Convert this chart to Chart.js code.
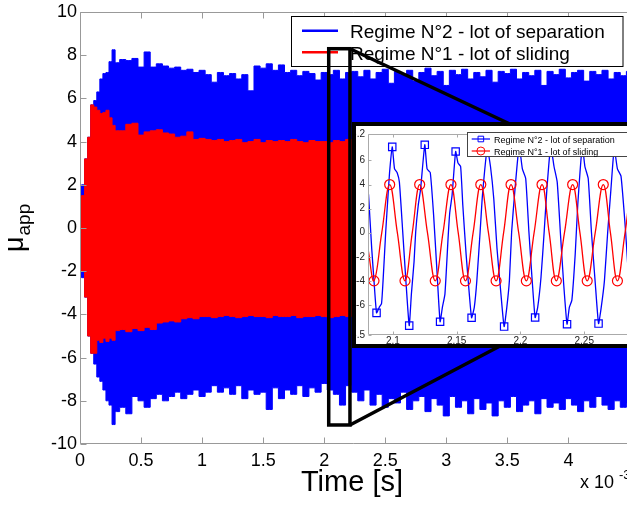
<!DOCTYPE html>
<html>
<head>
<meta charset="utf-8">
<script src="https://cdn.jsdelivr.net/npm/chart.js@4.4.1/dist/chart.umd.min.js"></script>
<style>
  html, body { margin: 0; padding: 0; background: #fff; overflow: hidden; }
  #wrap { position: relative; width: 627px; height: 505px; overflow: hidden; }
  #main { position: absolute; left: 0; top: 0; }
  #insetBox { position: absolute; left: 352px; top: 122px; width: 300px; height: 218px;
              border: 4px solid #000; background: #fff; }
  #inset { display: block; }
</style>
</head>
<body>
<div id="wrap">
  <canvas id="main" width="627" height="505"></canvas>
  <div id="insetBox"><canvas id="inset" width="300" height="218"></canvas></div>
</div>
<script>
const FONT = "'Liberation Sans', Arial, sans-serif";
const BLUE = "#0000ff";
const RED = "#ff0000";
const sepLabel = "Regime N°2 - lot of separation";
const slideLabel = "Regime N°1 - lot of sliding";

// envelope of mu_app over the whole run, time in units of 1e-3 s
const time = [
  0, 0.025, 0.05, 0.075, 0.1, 0.125, 0.15, 0.175, 0.2, 0.225, 0.25, 0.275, 0.3,
  0.35, 0.4, 0.45, 0.5, 0.55, 0.6, 0.65, 0.7, 0.75, 0.8, 0.85, 0.9, 0.95, 1.0,
  1.05, 1.1, 1.15, 1.2, 1.25, 1.3, 1.35, 1.4, 1.45, 1.5, 1.55, 1.6,
  1.65, 1.7, 1.75, 1.8, 1.85, 1.9, 1.95, 2.0, 2.05, 2.1, 2.15, 2.2,
  2.25, 2.3, 2.35, 2.4, 2.45, 2.5, 2.55, 2.6, 2.65, 2.7,
  2.75, 2.8, 2.85, 2.9, 2.95, 3.0, 3.05, 3.1, 3.15, 3.2,
  3.25, 3.3, 3.35, 3.4, 3.45, 3.5, 3.55, 3.6, 3.65, 3.7,
  3.75, 3.8, 3.85, 3.9, 3.95, 4.0, 4.05, 4.1, 4.15, 4.2,
  4.25, 4.3, 4.35, 4.4, 4.45, 4.5
];
// Regime N°2 (separation) upper / lower envelope
const sepTop = [
  0.3, 2.0, 3.2, 4.2, 5.7, 5.9, 6.3, 6.9, 7.15, 7.2, 7.7, 8.25, 7.65,
  7.8, 7.75, 7.85, 7.45, 8.15, 7.45, 7.6, 7.5, 7.4, 7.45, 7.3, 7.35, 7.2, 7.3,
  7.1, 6.75, 7.2, 7.05, 7.15, 6.9, 7.1, 6.35, 7.5, 7.4, 7.6, 7.3,
  7.55, 7.2, 7.3, 7.05, 7.25, 7.15, 6.85, 7.2, 7.1, 7.3, 6.9, 7.2,
  7.25, 7.0, 7.3, 6.9, 7.2, 7.35, 6.7, 7.25, 7.1, 7.3,
  6.8, 7.2, 7.4, 7.05, 7.25, 6.6, 7.3, 7.1, 7.35, 6.9,
  7.2, 7.0, 7.3, 6.75, 7.25, 7.15, 7.35, 6.9, 7.2, 7.05,
  7.3, 6.6, 7.25, 7.1, 7.35, 6.95, 7.2, 7.3, 6.8, 7.25,
  7.1, 7.3, 6.9, 7.2, 7.05, 7.25
];
const sepBot = [
  -0.3, -2.3, -3.2, -5.0, -5.8, -6.3, -6.9, -7.1, -7.5, -8.0, -8.2, -9.1, -8.5,
  -8.3, -8.6, -7.8, -8.0, -8.3, -7.9, -7.7, -8.0, -7.8, -7.6, -7.9, -7.7, -7.5, -7.8,
  -7.6, -7.3, -7.6, -7.4, -7.7, -7.3, -7.9, -7.5, -7.7, -7.6, -8.4, -7.4,
  -7.9, -7.5, -7.7, -7.3, -7.8, -7.4, -7.6, -7.2, -7.5, -7.7, -8.2, -7.3,
  -7.6, -8.0, -7.5, -8.2, -7.7, -8.3, -7.9, -8.1, -7.6, -8.4,
  -8.0, -7.8, -8.5, -7.9, -8.2, -8.7, -7.8, -8.3, -8.0, -8.6,
  -7.9, -8.4, -8.1, -8.7, -8.0, -8.3, -7.8, -8.5, -8.2, -8.0,
  -8.6, -7.9, -8.3, -8.1, -8.4, -7.9, -8.2, -8.5, -8.0, -8.3,
  -7.8, -8.2, -8.4, -8.0, -8.3, -8.1
];
// Regime N°1 (sliding) upper / lower envelope
const slideTop = [
  0.3, 1.5, 3.2, 4.2, 5.7, 5.6, 5.45, 5.3, 5.35, 5.45, 5.1, 4.75, 4.5,
  4.5, 4.8, 4.85, 4.3, 4.45, 4.5, 4.55, 4.4, 4.35, 4.2, 4.25, 4.45, 4.1, 4.15,
  4.1, 4.05, 4.1, 4.0, 4.05, 4.1, 3.95, 4.0, 4.1, 3.95, 4.05, 4.0,
  4.05, 4.0, 4.1, 4.0, 3.95, 4.05, 4.0, 4.0, 3.95, 4.05, 4.0, 4.1,
  4.0, 4.05, 3.95, 4.0, 4.1, 4.0, 3.95, 4.05, 4.0, 4.0,
  4.1, 3.95, 4.0, 4.05, 4.0, 3.95, 4.05, 4.0, 4.1, 4.0,
  3.95, 4.0, 4.05, 4.0, 3.95, 4.05, 4.0, 4.1, 4.0, 3.95,
  4.05, 4.0, 4.0, 4.05, 3.95, 4.0, 4.1, 4.0, 3.95, 4.05,
  4.0, 4.0, 4.05, 3.95, 4.0, 4.05
];
const slideBot = [
  -0.2, -2.0, -3.2, -5.0, -5.8, -5.8, -5.2, -5.3, -5.1, -5.25, -5.1, -5.2, -4.75,
  -4.7, -4.8, -4.65, -4.75, -4.6, -4.7, -4.4, -4.35, -4.3, -4.35, -4.2, -4.15, -4.2, -4.1,
  -4.1, -4.15, -4.1, -4.05, -4.1, -4.15, -4.1, -4.05, -4.1, -4.1, -4.15, -4.05,
  -4.1, -4.1, -4.05, -4.15, -4.1, -4.1, -4.05, -4.1, -4.15, -4.1, -4.05, -4.1,
  -4.1, -4.05, -4.15, -4.1, -4.1, -4.05, -4.15, -4.1, -4.1, -4.05,
  -4.1, -4.15, -4.1, -4.05, -4.1, -4.1, -4.15, -4.05, -4.1, -4.1,
  -4.05, -4.15, -4.1, -4.1, -4.05, -4.1, -4.15, -4.1, -4.05, -4.1,
  -4.1, -4.15, -4.05, -4.1, -4.1, -4.05, -4.15, -4.1, -4.1, -4.05,
  -4.1, -4.15, -4.1, -4.05, -4.1, -4.1
];

// zoomed window shown in the inset
const insetSepTime = [
  2.0809, 2.0834, 2.0852, 2.0872, 2.0893, 2.0911, 2.0923, 2.0944, 2.0962, 2.0974,
  2.0995, 2.1013, 2.1033, 2.1051, 2.1077, 2.1102, 2.1128, 2.1145, 2.1166, 2.1179,
  2.1199, 2.1217, 2.1250, 2.1268, 2.1293, 2.1319, 2.1344, 2.1370, 2.1388, 2.1408,
  2.1434, 2.1446, 2.1464, 2.1492, 2.1510, 2.1531, 2.1548, 2.1574, 2.1599, 2.1617,
  2.1638, 2.1658, 2.1684, 2.1702, 2.1740, 2.1765, 2.1791, 2.1816, 2.1847, 2.1872,
  2.1893, 2.1913, 2.1931, 2.1957, 2.1990, 2.2015, 2.2041, 2.2066, 2.2092, 2.2115,
  2.2135, 2.2161, 2.2186, 2.2207, 2.2237, 2.2263, 2.2288, 2.2314, 2.2339, 2.2365,
  2.2383, 2.2403, 2.2429, 2.2449, 2.2485, 2.2505, 2.2531, 2.2556, 2.2587, 2.2612,
  2.2633, 2.2658, 2.2684, 2.2709, 2.2735, 2.2760, 2.2788, 2.2824, 2.2849, 2.2875,
  2.2901, 2.2939, 2.2977
];
const insetSepMu = [
  3.2, -1.3, -4.0, -6.66, -6.2, -5.9, -4.0, 0.1, 3.1, 5.0,
  7.13, 5.3, 5.0, 4.2, 0.1, -4.0, -7.72, -5.1, -2.4, 0.1,
  2.3, 3.6, 7.3, 5.3, 5.0, 1.5, -2.9, -7.4, -6.2, -5.1,
  -0.2, 1.7, 3.1, 6.75, 5.8, 5.5, 2.3, -1.8, -5.1, -7.07,
  -6.2, -4.0, 0.1, 3.1, 7.0, 5.5, 2.8, -1.3, -5.1, -7.8,
  -6.2, -4.0, 0.1, 3.6, 7.2, 5.3, 4.5, 0.1, -4.0, -7.05,
  -6.2, -3.7, 0.1, 3.6, 7.2, 5.5, 4.2, -0.2, -4.3, -7.6,
  -6.2, -5.6, -1.8, 2.3, 7.2, 5.5, 4.5, 0.1, -4.3, -7.55,
  -6.2, -4.0, 0.1, 3.6, 7.0, 5.3, 4.7, 0.1, -4.0, -7.5,
  -6.0, 0.1, 7.0
];
const insetSlideTime = [
  2.0806, 2.0852, 2.0913, 2.0975, 2.1035, 2.1095, 2.1152, 2.1210, 2.1271, 2.1332,
  2.1393, 2.1455, 2.1512, 2.1569, 2.1629, 2.1689, 2.1749, 2.1809, 2.1868, 2.1926,
  2.1986, 2.2046, 2.2107, 2.2169, 2.2225, 2.2281, 2.2345, 2.2409, 2.2466, 2.2523,
  2.2586, 2.2649, 2.2705, 2.2760, 2.2820, 2.2880, 2.2940, 2.3000
];
const insetSlideMu = [
  -1.4, -4, 0, 4, 0, -4, 0, 4, 0, -4,
  0, 4, 0, -4, 0, 4, 0, -4, 0, 4,
  0, -4, 0, 4, 0, -4, 0, 4, 0, -4,
  0, 4, 0, -4, 0, 4, 0, -4
];

// window of the zoom box drawn on the main axes
const zoomWindow = { t0: 2.037, t1: 2.211, lo: -9.12, hi: 8.3 };

function pts(xs, ys) {
  return xs.map((x, i) => ({ x: x, y: ys[i] }));
}

function isExtremum(arr, i) {
  if (i <= 0 || i >= arr.length - 1 || Math.abs(arr[i]) < 3.5) return false;
  return (arr[i] > arr[i - 1] && arr[i] > arr[i + 1]) ||
         (arr[i] < arr[i - 1] && arr[i] < arr[i + 1]);
}

// MATLAB-like box: thin frame with inward ticks
const matlabAxes = {
  id: "matlabAxes",
  afterDatasetsDraw(chart, args, opts) {
    const { ctx, chartArea: a, scales } = chart;
    const L = Math.round(a.left) + 0.5, T = Math.round(a.top) + 0.5, B = Math.round(a.bottom) - 0.5;
    const len = opts.tickLen;
    ctx.save();
    ctx.strokeStyle = opts.color;
    ctx.lineWidth = 1;
    ctx.beginPath();
    ctx.moveTo(a.right, T); ctx.lineTo(L, T); ctx.lineTo(L, B); ctx.lineTo(a.right, B);
    scales.x.ticks.forEach((t) => {
      const px = Math.round(scales.x.getPixelForValue(t.value)) + 0.5;
      ctx.moveTo(px, B); ctx.lineTo(px, B - len);
      ctx.moveTo(px, T); ctx.lineTo(px, T + len);
    });
    scales.y.ticks.forEach((t) => {
      const py = Math.round(scales.y.getPixelForValue(t.value)) + 0.5;
      ctx.moveTo(L, py); ctx.lineTo(L + len, py);
    });
    ctx.stroke();
    ctx.restore();
  },
};

function drawMarker(ctx, style, x, y, r) {
  ctx.beginPath();
  if (style === "rect") ctx.rect(x - r * 0.7, y - r * 0.7, r * 1.4, r * 1.4);
  else ctx.arc(x, y, r, 0, Math.PI * 2);
  ctx.stroke();
}

// boxed legend, drawn on top of the curves
const boxLegend = {
  id: "boxLegend",
  afterDatasetsDraw(chart, args, o) {
    const ctx = chart.ctx;
    ctx.save();
    ctx.fillStyle = "#fff";
    ctx.strokeStyle = o.frame;
    ctx.lineWidth = 1;
    ctx.fillRect(o.x, o.y, o.w, o.h);
    ctx.strokeRect(o.x, o.y, o.w, o.h);
    ctx.font = o.size + "px " + FONT;
    ctx.textBaseline = "alphabetic";
    o.items.forEach((it, i) => {
      const y = o.rows[i];
      ctx.strokeStyle = it.color;
      ctx.lineWidth = o.lineWidth;
      ctx.beginPath();
      ctx.moveTo(o.lineX[0], y); ctx.lineTo(o.lineX[1], y);
      ctx.stroke();
      if (it.marker) {
        ctx.lineWidth = 1;
        drawMarker(ctx, it.marker, (o.lineX[0] + o.lineX[1]) / 2, y, o.markerR);
      }
      ctx.fillStyle = "#000";
      ctx.fillText(it.text, o.textX, y + o.size * 0.4);
    });
    ctx.restore();
  },
};

// axis titles, exponent and zoom box with its links to the inset
const mainDecor = {
  id: "mainDecor",
  afterDraw(chart) {
    const { ctx, scales } = chart;
    ctx.save();
    ctx.fillStyle = "#000";
    ctx.textBaseline = "alphabetic";

    ctx.font = "29px " + FONT;
    ctx.textAlign = "center";
    ctx.fillText("Time [s]", 352, 491);

    ctx.textAlign = "left";
    ctx.font = "18px " + FONT;
    ctx.fillText("x 10", 580, 488);
    ctx.font = "13px " + FONT;
    ctx.fillText("-3", 619, 479);

    ctx.save();
    ctx.translate(23, 252);
    ctx.rotate(-Math.PI / 2);
    ctx.font = "27px " + FONT;
    ctx.fillText("μ", 0, 0);
    const w = ctx.measureText("μ").width;
    ctx.font = "19px " + FONT;
    ctx.fillText("app", w + 1, 7);
    ctx.restore();

    const x0 = scales.x.getPixelForValue(zoomWindow.t0);
    const x1 = scales.x.getPixelForValue(zoomWindow.t1);
    const y0 = scales.y.getPixelForValue(zoomWindow.hi);
    const y1 = scales.y.getPixelForValue(zoomWindow.lo);
    ctx.strokeStyle = "#000";
    ctx.lineWidth = 3.5;
    ctx.strokeRect(x0, y0, x1 - x0, y1 - y0);
    ctx.beginPath();
    ctx.moveTo(x1, y0); ctx.lineTo(512, 125);
    ctx.moveTo(x1, y1); ctx.lineTo(500, 346);
    ctx.stroke();
    ctx.restore();
  },
};

function envelope(top, bot, color, order) {
  return [
    { data: pts(time, bot), borderColor: color, borderWidth: 1, pointRadius: 0,
      stepped: "middle", fill: false, order: order },
    { data: pts(time, top), borderColor: color, borderWidth: 1, pointRadius: 0,
      stepped: "middle", fill: "-1", backgroundColor: color, order: order },
  ];
}

const tickFont = (size) => ({ family: FONT, size: size, lineHeight: 1 });
const fmt = (v) => String(+(+v).toFixed(3));

new Chart(document.getElementById("main"), {
  type: "line",
  data: { datasets: envelope(sepTop, sepBot, BLUE, 1).concat(envelope(slideTop, slideBot, RED, 0)) },
  options: {
    responsive: false,
    animation: false,
    devicePixelRatio: 1,
    events: [],
    layout: { autoPadding: false, padding: { top: 11, left: 0, right: 0, bottom: 0 } },
    scales: {
      x: {
        type: "linear", min: 0, max: 4.48,
        grid: { display: false, drawTicks: false },
        border: { display: false },
        ticks: { stepSize: 0.5, includeBounds: false, autoSkip: false, maxRotation: 0,
                 padding: 8, color: "#000", font: tickFont(18), callback: fmt },
        afterFit: (s) => { s.height = 61; },
      },
      y: {
        min: -10, max: 10,
        grid: { display: false, drawTicks: false },
        border: { display: false },
        ticks: { stepSize: 2, padding: 3, color: "#000", font: tickFont(18), callback: fmt },
        afterFit: (s) => { s.width = 80; },
      },
    },
    plugins: {
      legend: { display: false },
      tooltip: { enabled: false },
      matlabAxes: { color: "#999", tickLen: 6 },
      boxLegend: {
        x: 291.5, y: 16.5, w: 331.5, h: 50, frame: "#000", size: 19,
        rows: [30.7, 52.3], lineX: [302, 338], textX: 350, lineWidth: 2.5, markerR: 0,
        items: [{ text: sepLabel, color: BLUE }, { text: slideLabel, color: RED }],
      },
    },
  },
  plugins: [matlabAxes, boxLegend, mainDecor],
});

new Chart(document.getElementById("inset"), {
  type: "line",
  data: {
    datasets: [
      { data: pts(insetSepTime, insetSepMu), borderColor: BLUE, borderWidth: 1.3,
        tension: 0.15, fill: false, order: 1,
        pointStyle: "rect", pointBorderColor: BLUE, pointBackgroundColor: "rgba(0,0,0,0)",
        pointBorderWidth: 1.2,
        pointRadius: (c) => (isExtremum(insetSepMu, c.dataIndex) ? 5.2 : 0) },
      { data: pts(insetSlideTime, insetSlideMu), borderColor: RED, borderWidth: 1.3,
        tension: 0.4, fill: false, order: 0,
        pointStyle: "circle", pointBorderColor: RED, pointBackgroundColor: "rgba(0,0,0,0)",
        pointBorderWidth: 1.2,
        pointRadius: (c) => (isExtremum(insetSlideMu, c.dataIndex) ? 5 : 0) },
    ],
  },
  options: {
    responsive: false,
    animation: false,
    devicePixelRatio: 1,
    events: [],
    layout: { autoPadding: false, padding: { top: 5, left: 0, right: 0, bottom: 0 } },
    scales: {
      x: {
        type: "linear", min: 2.0805, max: 2.301,
        grid: { display: false, drawTicks: false },
        border: { display: false },
        ticks: { stepSize: 0.05, includeBounds: false, autoSkip: false, maxRotation: 0,
                 padding: 1, color: "#222", font: tickFont(10), callback: fmt },
        afterFit: (s) => { s.height = 9; },
      },
      y: {
        min: -8.5, max: 8.2,
        grid: { display: false, drawTicks: false },
        border: { display: false },
        ticks: { stepSize: 2, padding: 3, color: "#222", font: tickFont(10), callback: fmt },
        afterFit: (s) => { s.width = 12; },
      },
    },
    plugins: {
      legend: { display: false },
      tooltip: { enabled: false },
      matlabAxes: { color: "#aaa", tickLen: 3 },
      boxLegend: {
        x: 111.5, y: 6.5, w: 200, h: 24, frame: "#444", size: 9,
        rows: [13, 25], lineX: [115.7, 134], textX: 138, lineWidth: 1.2, markerR: 4,
        items: [{ text: sepLabel, color: BLUE, marker: "rect" },
                { text: slideLabel, color: RED, marker: "circle" }],
      },
    },
  },
  plugins: [matlabAxes, boxLegend],
});
</script>
</body>
</html>
